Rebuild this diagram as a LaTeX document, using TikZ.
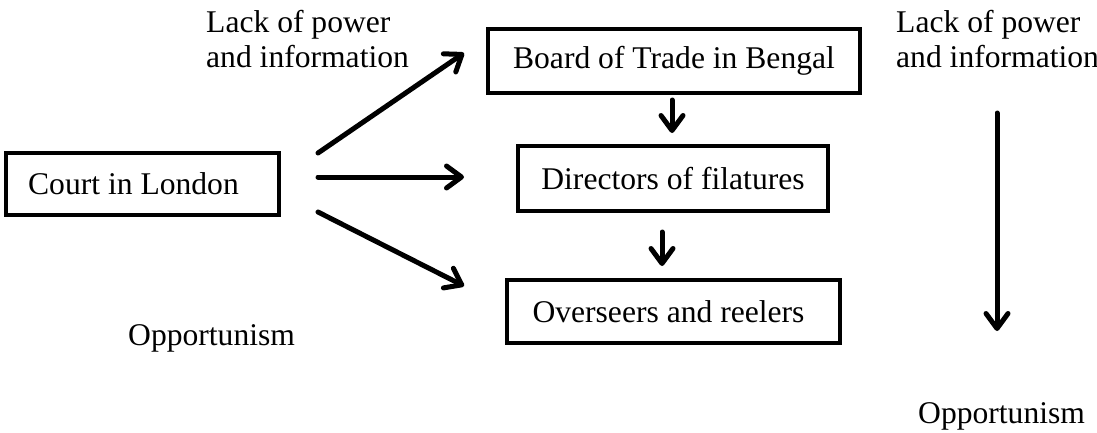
\documentclass[tikz,border=0pt]{standalone}
\usepackage{fontspec}
\setmainfont{Liberation Serif}
\usetikzlibrary{arrows.meta}
\begin{document}
\begin{tikzpicture}[x=1pt,y=-1pt,
  box/.style={draw=black,line width=4pt,inner sep=0pt,minimum width=#1},
  lbl/.style={inner sep=0pt,align=left,anchor=base west},
  arr/.style={line width=5pt,-{Straight Barb[length=15pt,width=22pt,line width=5pt,round]},line cap=round},
  font=\fontsize{31.6}{35}\selectfont]
\useasboundingbox (0,0) rectangle (1097,432);
% boxes
\node[box=273pt,minimum height=62pt] (court) at (142.5,184) {Court in London\kern18pt};
\node[box=372pt,minimum height=64pt] (board) at (674,61) {Board of Trade in Bengal};
\node[box=310pt,minimum height=65pt] (dir) at (673,178.5) {Directors of filatures};
\node[box=333pt,minimum height=63pt] (over) at (673.5,311.5) {Overseers and reelers\kern10pt};
% labels
\node[lbl] (lackL) at (206,67) {Lack of power\\and information};
\node[lbl] (lackR) at (896,67) {Lack of power\\and information};
\node[lbl] (oppL) at (128,345) {Opportunism};
\node[lbl] (oppR) at (918,423) {Opportunism};
% connector end points
\coordinate (a1s) at (318,153); \coordinate (a1e) at (464,53);
\coordinate (a2s) at (318,177); \coordinate (a2e) at (464,177);
\coordinate (a3s) at (318,212); \coordinate (a3e) at (464,286);
\coordinate (v1s) at (672,100); \coordinate (v1e) at (672,133);
\coordinate (v2s) at (662,232); \coordinate (v2e) at (662,266);
\coordinate (rs) at (997,113); \coordinate (re) at (997,331);
\draw[arr] (a1s) -- (a1e);
\draw[arr] (a2s) -- (a2e);
\draw[arr] (a3s) -- (a3e);
\draw[arr] (v1s) -- (v1e);
\draw[arr] (v2s) -- (v2e);
\draw[arr] (rs) -- (re);
\end{tikzpicture}
\end{document}
